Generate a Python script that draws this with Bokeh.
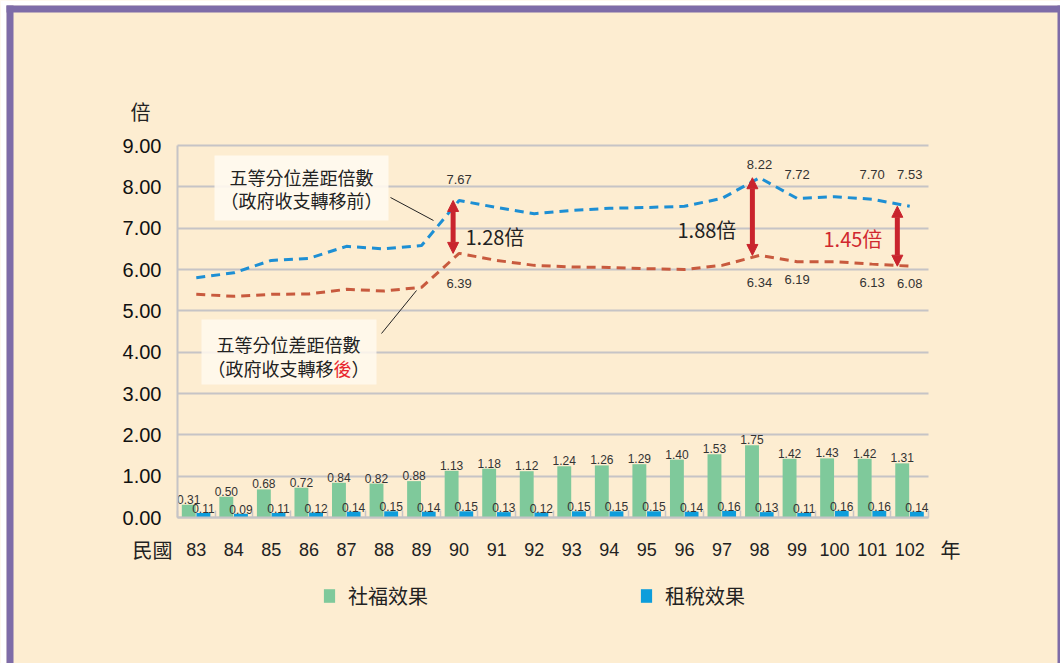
from bokeh.plotting import figure
from bokeh.models import (Range1d, ColumnDataSource, FixedTicker, LinearAxis, Grid,
                          NumeralTickFormatter, Label, BoxAnnotation, Arrow,
                          NormalHead, Legend, LegendItem)
from bokeh.core.properties import value
from bokeh.embed import file_html
from bokeh.resources import INLINE

# ---------------- data ----------------
years = ["83", "84", "85", "86", "87", "88", "89", "90", "91", "92",
         "93", "94", "95", "96", "97", "98", "99", "100", "101", "102"]
welfare = [0.31, 0.50, 0.68, 0.72, 0.84, 0.82, 0.88, 1.13, 1.18, 1.12,
           1.24, 1.26, 1.29, 1.40, 1.53, 1.75, 1.42, 1.43, 1.42, 1.31]
tax = [0.11, 0.09, 0.11, 0.12, 0.14, 0.15, 0.14, 0.15, 0.13, 0.12,
       0.15, 0.15, 0.15, 0.14, 0.16, 0.13, 0.11, 0.16, 0.16, 0.14]
before = [5.80, 5.92, 6.22, 6.27, 6.56, 6.50, 6.58, 7.67, 7.50, 7.35,
          7.43, 7.48, 7.50, 7.53, 7.72, 8.22, 7.72, 7.76, 7.70, 7.53]
after = [5.40, 5.35, 5.40, 5.41, 5.52, 5.48, 5.57, 6.39, 6.22, 6.10,
         6.06, 6.05, 6.02, 6.00, 6.10, 6.34, 6.19, 6.19, 6.13, 6.08]
y_ticks = [0, 1, 2, 3, 4, 5, 6, 7, 8, 9]
labeled_idx = [7, 15, 16, 18, 19]      # points whose values are printed
gap_idx = [7, 15, 19]                   # years with a gap arrow
legend_names = ["社福效果", "租稅效果"]
x_prefix, x_suffix, y_unit = "民國", "年", "倍"
series_before = ["五等分位差距倍數", "（政府收支轉移前）"]
series_after = ["五等分位差距倍數", "（政府收支轉移", "後", "）"]

# ---------------- styles / layout ----------------
W, H = 1060, 663
PLOT_L, PLOT_R, PLOT_T, PLOT_B = 177, 928, 145, 517   # gridded area, page px
BG = "#FDEDD1"
PURPLE = "#7E6CA8"
GRID = "#C6C4C6"
GREEN = "#7FC99B"
BLUE_BAR = "#0D9DDB"
BLUE_LINE = "#1D8FD4"
RED_LINE = "#C85A3E"
ARROW_RED = "#C9242D"
TXT = "#222222"
CJK = "Noto Sans CJK TC"
SANS = "Liberation Sans"

n = len(years)
ymax = y_ticks[-1]
ux = (PLOT_R - PLOT_L) / n          # px per category
uy = (PLOT_B - PLOT_T) / ymax       # px per unit
x_range = Range1d(-PLOT_L / ux, (W - PLOT_L) / ux)
y_range = Range1d(-(H - PLOT_B) / uy, ymax + PLOT_T / uy)

p = figure(width=W, height=H, output_backend="svg", toolbar_location=None,
           x_range=x_range, y_range=y_range, x_axis_type=None, y_axis_type=None,
           min_border_left=0, min_border_right=0, min_border_top=0,
           min_border_bottom=0)
p.background_fill_color = BG
p.border_fill_color = BG
p.outline_line_color = None


def sx(px):
    return px


def sy(py):
    return H - py


centers = [i + 0.5 for i in range(n)]

# grid
p.add_layout(Grid(dimension=1, ticker=FixedTicker(ticks=y_ticks),
                  bounds=(0, ymax), cross_bounds=(0, n),
                  grid_line_color=GRID, grid_line_width=2))

# y axis
yax = LinearAxis(ticker=FixedTicker(ticks=y_ticks),
                 formatter=NumeralTickFormatter(format="0.00"),
                 fixed_location=0, bounds=(0, ymax),
                 axis_line_color=GRID, axis_line_width=2,
                 major_tick_line_color=None, minor_tick_line_color=None,
                 major_tick_out=0, major_label_standoff=16,
                 major_label_text_font=SANS, major_label_text_font_size="20px",
                 major_label_text_color="#111111")
p.add_layout(yax, "left")

# x axis with the years; minor ticks mark the group boundaries
xax = LinearAxis(ticker=FixedTicker(ticks=centers, minor_ticks=list(range(n + 1))),
                 major_label_overrides={c: y for c, y in zip(centers, years)},
                 fixed_location=0, bounds=(0, n),
                 axis_line_color=GRID, axis_line_width=2,
                 major_tick_line_color=None,
                 minor_tick_line_color=GRID, minor_tick_line_width=1.5,
                 minor_tick_in=7, minor_tick_out=0,
                 major_tick_out=0, major_label_standoff=25,
                 major_label_text_font=SANS, major_label_text_font_size="18px",
                 major_label_text_color=TXT)
p.add_layout(xax, "below")

# "民國 ... 年" labels on the axis row
pre_x = (152 - PLOT_L) / ux
suf_x = (950 - PLOT_L) / ux
cax = LinearAxis(ticker=FixedTicker(ticks=[pre_x, suf_x]),
                 major_label_overrides={pre_x: x_prefix, suf_x: x_suffix},
                 fixed_location=0, axis_line_color=None,
                 major_tick_line_color=None, minor_tick_line_color=None,
                 major_tick_out=0, major_label_standoff=17,
                 major_label_text_font=CJK, major_label_text_font_size="20px",
                 major_label_text_color=TXT)
p.add_layout(cax, "below")

src = ColumnDataSource(dict(
    xc=centers,
    xg=[c - 0.2 for c in centers],
    xb=[c + 0.19 for c in centers],
    welfare=welfare, tax=tax, before=before, after=after,
    wl=[f"{v:.2f}" for v in welfare],
    tl=[f"{v:.2f}" for v in tax]))

# bars
g = p.vbar(x="xg", top="welfare", width=0.37, source=src,
           fill_color=GREEN, line_color=None)
b = p.vbar(x="xb", top="tax", width=0.37, source=src,
           fill_color=BLUE_BAR, line_color=None)
p.text(x="xg", y="welfare", text="wl", source=src,
       text_align="center", text_baseline="bottom", y_offset=-1,
       text_font=value(SANS), text_font_size="12px", text_color="#333333")
p.text(x="xb", y="tax", text="tl", source=src,
       text_align="center", text_baseline="bottom", y_offset=0,
       text_font=value(SANS), text_font_size="12px", text_color="#333333")

# dashed lines
p.line(x="xc", y="before", source=src, line_color=BLUE_LINE, line_width=3,
       line_dash="9 6")
p.line(x="xc", y="after", source=src, line_color=RED_LINE, line_width=3,
       line_dash="9 6")

# value labels on the lines
before_offsets = [-21, -13, -24, -25, -32]
after_offsets = [30, 27, 18, 18, 17]
lab_src = ColumnDataSource(dict(
    xc=[centers[i] for i in labeled_idx],
    before=[before[i] for i in labeled_idx],
    after=[after[i] for i in labeled_idx],
    bl=[f"{before[i]:.2f}" for i in labeled_idx],
    al=[f"{after[i]:.2f}" for i in labeled_idx],
    bo=before_offsets, ao=after_offsets))
p.text(x="xc", y="before", text="bl", y_offset="bo", source=lab_src,
       text_align="center", text_baseline="middle",
       text_font=value(SANS), text_font_size="13px", text_color="#333333")
p.text(x="xc", y="after", text="al", y_offset="ao", source=lab_src,
       text_align="center", text_baseline="middle",
       text_font=value(SANS), text_font_size="13px", text_color="#333333")

# gap arrows
arrow_dx = [-0.16, -0.19, -0.33]
for i, dx in zip(gap_idx, arrow_dx):
    xa = centers[i] + dx
    p.add_layout(Arrow(
        x_start=xa, y_start=before[i], x_end=xa, y_end=after[i],
        line_color=ARROW_RED, line_width=5,
        start=NormalHead(size=11, fill_color=ARROW_RED, line_color=ARROW_RED),
        end=NormalHead(size=11, fill_color=ARROW_RED, line_color=ARROW_RED)))

gap_pos = [(465, 236, TXT), (677, 229, TXT), (823, 238, "#D0282E")]
for i, (px, py, col) in zip(gap_idx, gap_pos):
    p.add_layout(Label(x=sx(px), y=sy(py), x_units="screen", y_units="screen",
                       text=f"{before[i] - after[i]:.2f}倍",
                       text_font=CJK, text_font_size="20px", text_color=col,
                       text_align="left", text_baseline="middle"))

# call-out boxes
for (l, r, t, bt, a) in [(214, 388, 155, 220, 0.9), (201, 376, 319, 384, 0.85)]:
    p.add_layout(BoxAnnotation(left=sx(l), right=sx(r), top=sy(t), bottom=sy(bt),
                               left_units="screen", right_units="screen",
                               top_units="screen", bottom_units="screen",
                               fill_color="#FFF9EF", fill_alpha=a, line_color=None))


def add_text(txt, px, py, size, color=TXT, align="center", font=CJK):
    p.add_layout(Label(x=sx(px), y=sy(py), x_units="screen", y_units="screen",
                       text=txt, text_font=font, text_font_size=size,
                       text_color=color, text_align=align, text_baseline="middle"))


add_text(series_before[0], 301, 176, "18px")
add_text(series_before[1], 301, 199, "18px")
add_text(series_after[0], 288, 343, "18px")
x0 = 207
for part, col in zip(series_after[1:], [TXT, "#E8262E", TXT]):
    add_text(part, x0, 367, "18px", color=col, align="left")
    x0 += 18 * len(part)

# leader lines
for (xa, ya, xb, yb) in [(390, 197, 433, 220), (381, 333, 416, 290)]:
    p.add_layout(Arrow(x_start=sx(xa), y_start=sy(ya), x_end=sx(xb), y_end=sy(yb),
                       start_units="screen", end_units="screen", end=None,
                       line_color="#222222", line_width=1))

# unit label of the y axis
add_text(y_unit, 140, 111, "20px")

# legend
legend = Legend(items=[LegendItem(label=legend_names[0], renderers=[g]),
                       LegendItem(label=legend_names[1], renderers=[b])],
                orientation="horizontal", location=(sx(322), sy(610)),
                glyph_width=14, glyph_height=17, label_standoff=12,
                label_text_font=CJK, label_text_font_size="20px",
                label_text_color=TXT, spacing=211, padding=0, margin=0,
                label_width=0, label_height=17,
                background_fill_alpha=0, border_line_color=None)
p.add_layout(legend)

# page frame: white edge and purple border
for (l, r, t, bt, col) in [(0, W, 0, 5, "white"), (0, 6, 0, H, "white"),
                           (6, W, 5, 12, PURPLE), (6, 13, 5, H, PURPLE),
                           (1057, W, 5, H, PURPLE)]:
    p.add_layout(BoxAnnotation(left=sx(l), right=sx(r), top=sy(t), bottom=sy(bt),
                               left_units="screen", right_units="screen",
                               top_units="screen", bottom_units="screen",
                               fill_color=col, fill_alpha=1, line_color=None))

open("out.html", "w").write(file_html(p, INLINE))
